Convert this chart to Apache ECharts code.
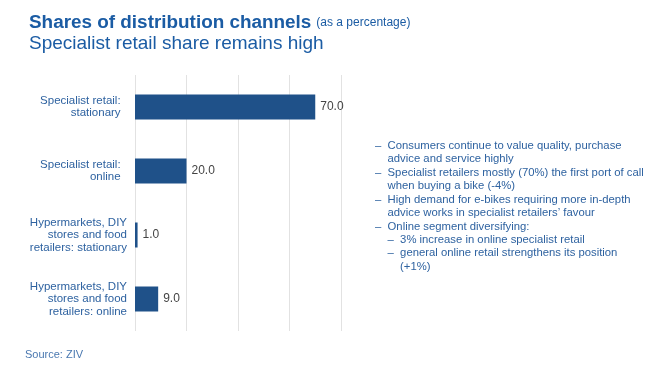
<!DOCTYPE html>
<html>
<head>
<meta charset="utf-8">
<script src="https://cdn.jsdelivr.net/npm/echarts@6/dist/echarts.min.js"></script>
<style>
html,body{margin:0;padding:0;background:#fff;}
#c{width:660px;height:378px;}
</style>
</head>
<body>
<div id="c"></div>
<script>
var categories = [
  'Specialist retail:  \nstationary  ',
  'Specialist retail:  \nonline  ',
  'Hypermarkets, DIY\nstores and food\nretailers: stationary',
  'Hypermarkets, DIY\nstores and food\nretailers: online'
];
var shares = [70.0, 20.0, 1.0, 9.0];
var bullets = [
  '–  Consumers continue to value quality, purchase',
  '    advice and service highly',
  '–  Specialist retailers mostly (70%) the first port of call',
  '    when buying a bike (-4%)',
  '–  High demand for e-bikes requiring more in-depth',
  '    advice works in specialist retailers’ favour',
  '–  Online segment diversifying:',
  '    –  3% increase in online specialist retail',
  '    –  general online retail strengthens its position',
  '        (+1%)'
];

var chart = echarts.init(document.getElementById('c'));
var font = '"Liberation Sans", Arial, sans-serif';
chart.setOption({
  animation: false,
  textStyle: {fontFamily: font},
  title: {
    left: 29, top: 12, padding: 0,
    text: '{b|Shares of distribution channels} {s|(as a percentage)}\n{n|Specialist retail share remains high}',
    textStyle: {
      fontWeight: 'normal',
      rich: {
        b: {fontFamily: font, fontSize: 18.9, fontWeight: 'bold', color: '#1b5ca4', lineHeight: 21},
        s: {fontFamily: font, fontSize: 12, fontWeight: 'normal', color: '#1b5ca4', lineHeight: 21},
        n: {fontFamily: font, fontSize: 19, fontWeight: 'normal', color: '#1b5ca4', lineHeight: 21}
      }
    }
  },
  grid: {left: 135, top: 75, width: 206, height: 256, containLabel: false},
  xAxis: {
    type: 'value', min: 0, max: 80, interval: 20,
    axisLabel: {show: false}, axisLine: {show: false}, axisTick: {show: false},
    splitLine: {lineStyle: {color: '#e2e2e2', width: 1}}
  },
  yAxis: {
    type: 'category', data: categories, inverse: true,
    axisLine: {show: false}, axisTick: {show: false},
    axisLabel: {color: '#2e62a0', fontSize: 11.5, align: 'right', margin: 8, lineHeight: 12.5, fontFamily: font}
  },
  series: [{
    type: 'bar', data: shares, barWidth: 25,
    itemStyle: {color: '#1f5189'},
    label: {show: true, position: 'right', distance: 5, color: '#444', fontSize: 12, fontFamily: font,
      formatter: function (p) { return p.value.toFixed(1); }}
  }],
  graphic: [
    {type: 'text', left: 375, top: 139, style: {text: bullets.join('\n'), fontFamily: font, fontSize: 11.3, lineHeight: 13.45, fill: '#2e62a0'}},
    {type: 'text', left: 25, top: 349, style: {text: 'Source: ZIV', fontFamily: font, fontSize: 11, fill: '#4a78b0'}}
  ]
});
</script>
</body>
</html>
